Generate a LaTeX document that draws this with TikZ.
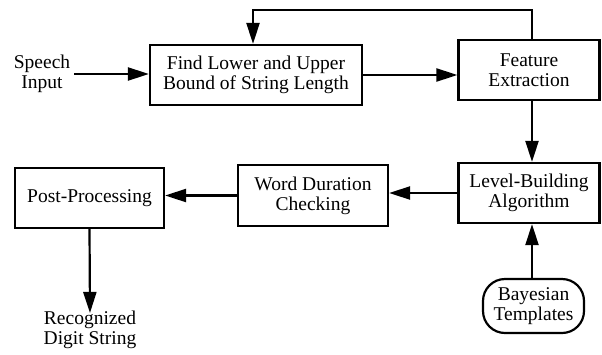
\documentclass[tikz,border=0pt]{standalone}
\usepackage{fontspec}
\setmainfont{Liberation Serif}
\newfontfamily\diagfont{Liberation Serif}
\usetikzlibrary{arrows.meta}
\begin{document}
\begin{tikzpicture}[x=1pt,y=-1pt,
  every node/.style={font=\diagfont\fontsize{19.5}{20}\selectfont, align=center},
  box/.style={draw, line width=2.2pt, inner sep=0pt},
  lbl/.style={inner sep=0pt},
  arr/.style={line width=2.2pt, -{Triangle[length=21pt,width=13pt]}}]
\useasboundingbox (0,0) rectangle (602,354);
\node[lbl] (speech) at (42,74) {Speech\\Input};
\node[box, minimum width=212pt, minimum height=60pt] (find) at (256,75) {Find Lower and Upper\\Bound of String Length};
\node[box, minimum width=141pt, minimum height=60pt] (feature) at (529,70) {Feature\\Extraction};
\node[box, minimum width=141pt, minimum height=60pt] (level) at (529,193) {Level-Building\\Algorithm};
\node[box, minimum width=150pt, minimum height=61pt] (word) at (313,195.5) {Word Duration\\Checking};
\node[box, minimum width=149pt, minimum height=60pt] (post) at (89.5,198) {Post-Processing};
\node[box, rounded corners=22pt, minimum width=101pt, minimum height=54pt] (bayes) at (533.5,306) {Bayesian\\Templates};
\node[lbl] (rec) at (90,330) {Recognized\\Digit String};
\coordinate (fb) at (253,10);
\draw[arr] (speech.east) ++(4,0) -- (speech.east -| find.west);
\draw[arr] (find.east) -- (find.east -| feature.west);
\draw[arr] ([xshift=3pt]feature.north) |- (fb) -- (fb |- find.north);
\draw[arr] ([xshift=3pt]feature.south) -- ([xshift=3pt]level.north);
\draw[arr] (level.west) -- (level.west -| word.east);
\draw[arr] (word.west) -- (word.west -| post.east);
\draw[arr] (post.south) -- ([yshift=-2pt]rec.north);
\draw[arr] ([xshift=-1.5pt]bayes.north) -- ([xshift=-1.5pt]bayes.north |- level.south);
\end{tikzpicture}
\end{document}
